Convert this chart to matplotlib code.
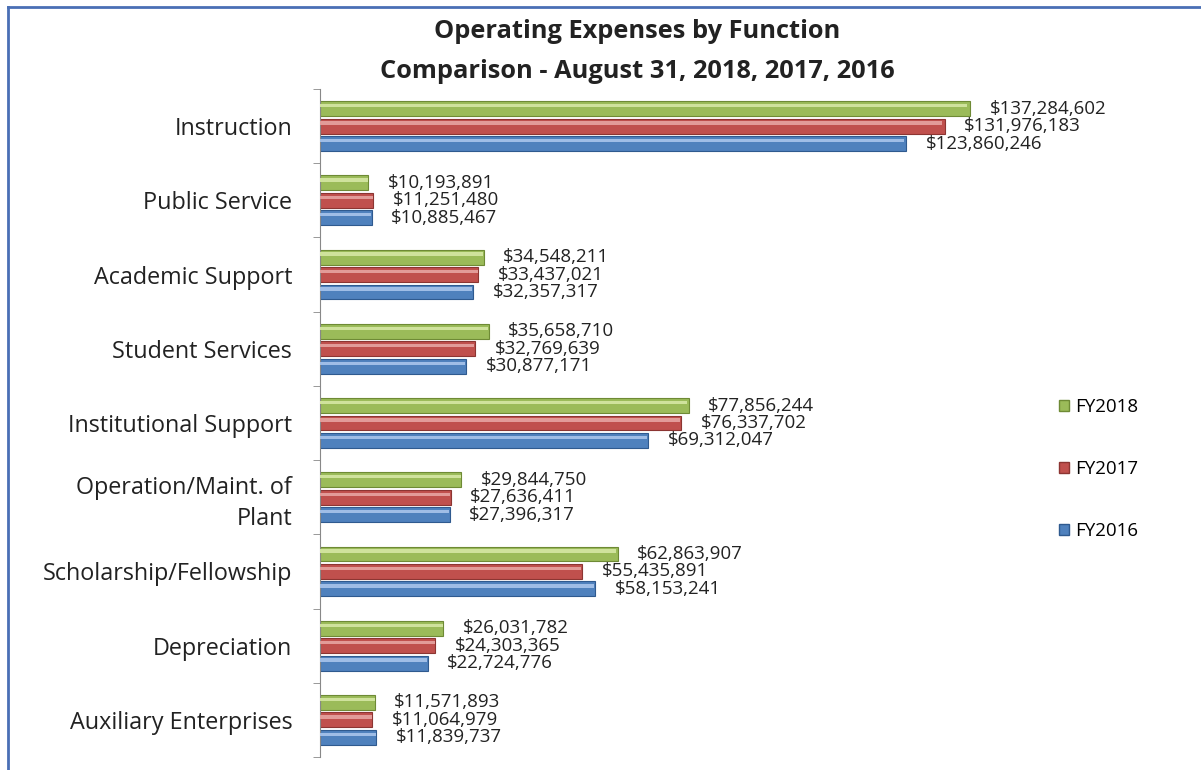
import numpy as np
import matplotlib.pyplot as plt
from matplotlib.patches import Patch
from matplotlib.lines import Line2D

plt.rcParams['font.family'] = ['Open Sans', 'DejaVu Sans']

# data
categories = ['Instruction', 'Public Service', 'Academic Support', 'Student Services',
              'Institutional Support', 'Operation/Maint. of\nPlant', 'Scholarship/Fellowship',
              'Depreciation', 'Auxiliary Enterprises']
fy2018 = [137284602, 10193891, 34548211, 35658710, 77856244, 29844750, 62863907, 26031782, 11571893]
fy2017 = [131976183, 11251480, 33437021, 32769639, 76337702, 27636411, 55435891, 24303365, 11064979]
fy2016 = [123860246, 10885467, 32357317, 30877171, 69312047, 27396317, 58153241, 22724776, 11839737]
series_names = ['FY2018', 'FY2017', 'FY2016']

colors = ['#9BBB59', '#C0504D', '#4F81BD']
highlights = ['#CFE29C', '#E29B98', '#9FBDE6']
edges = ['#6E8A35', '#8C3532', '#2F5A8F']

fig = plt.figure(figsize=(12.01, 7.70), dpi=100)
ax = fig.add_axes([320 / 1201, 1 - 757 / 770, 720 / 1201, (757 - 89) / 770])

y = np.arange(len(categories))
offsets = [-0.235, 0.0, 0.235]
h = 0.2
for vals, off, c, hc, ec in zip([fy2018, fy2017, fy2016], offsets, colors, highlights, edges):
    vals_m = np.array(vals) / 1e6
    ax.barh(y + off, vals_m, height=h, color=c, edgecolor=ec, linewidth=0.8, zorder=2)
    # glossy highlight stripe
    ax.barh(y + off - 0.04, vals_m * 0.995, height=0.045, color=hc, linewidth=0, zorder=3)
    for yi, v in zip(y + off, vals):
        ax.annotate('${:,}'.format(v), xy=(v / 1e6, yi), xytext=(14, 0),
                    textcoords='offset points', va='center', ha='left',
                    fontsize=13.5, color='#222222')

ax.set_xlim(0, 720 / 4.735)
ax.set_ylim(len(categories) - 0.5, -0.5)

ax.set_yticks(y)
ax.set_yticklabels(categories, fontsize=16.8, color='#222222', linespacing=1.4)
ax.tick_params(axis='y', which='major', length=0, pad=20)
ax.set_yticks(np.arange(len(categories) + 1) - 0.5, minor=True)
ax.tick_params(axis='y', which='minor', length=5, color='#888888')
ax.set_xticks([])
for s in ['top', 'right', 'bottom']:
    ax.spines[s].set_visible(False)
ax.spines['left'].set_color('#888888')

# legend
handles = [Patch(facecolor=c, edgecolor=ec) for c, ec in zip(colors, edges)]
fig.legend(handles, series_names, loc='upper left', bbox_to_anchor=(1042 / 1201, 1 - 381 / 770),
           frameon=False, fontsize=13.5, handlelength=0.55, handleheight=0.55,
           handletextpad=0.3, labelspacing=2.35)

# title
fig.text(637 / 1201, 1 - 32 / 770, 'Operating Expenses by Function', ha='center', va='center',
         fontsize=18.3, fontweight='bold', color='#222222')
fig.text(637 / 1201, 1 - 71 / 770, 'Comparison - August 31, 2018, 2017, 2016', ha='center',
         va='center', fontsize=18.3, fontweight='bold', color='#222222')

# frame lines (left and top)
fig.add_artist(Line2D([8 / 1201, 8 / 1201], [0, 1 - 7 / 770], transform=fig.transFigure,
                      color='#4A6FB5', linewidth=2))
fig.add_artist(Line2D([8 / 1201, 1], [1 - 7 / 770, 1 - 7 / 770], transform=fig.transFigure,
                      color='#4A6FB5', linewidth=2))

fig.savefig('out.png', dpi=100)
